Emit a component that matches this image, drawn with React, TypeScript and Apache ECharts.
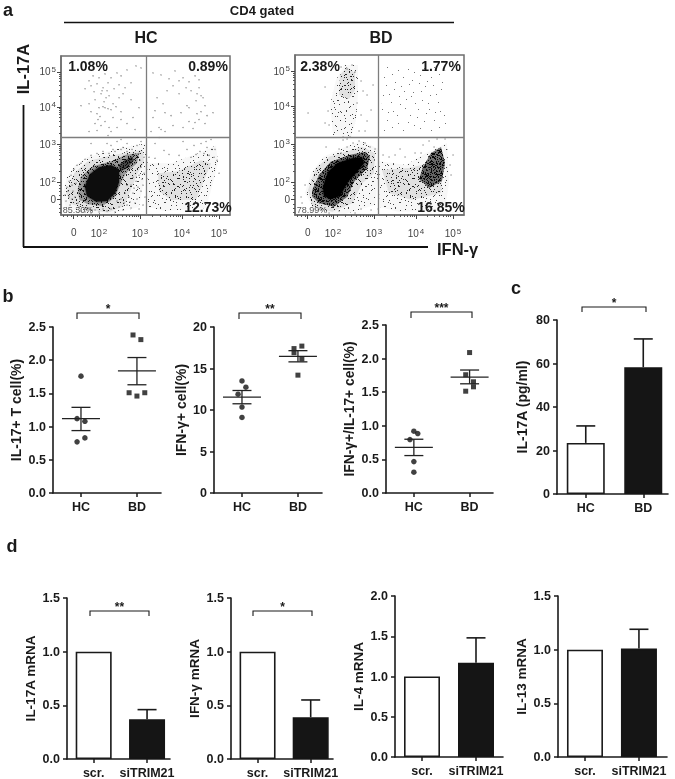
import React, { useEffect, useRef } from "react";
import * as echarts from "echarts";

// ---------- panel b: dots as [group position, value] ----------
const il17Hc = [[1, 1.76], [0.93, 1.12], [1.07, 1.08], [1.07, 0.83], [0.93, 0.77]];
const il17Bd = [[1.93, 2.38], [2.07, 2.31], [1.86, 1.51], [2, 1.46], [2.14, 1.51]];
const il17Stats = [[1, 1.12, 0.94, 1.29], [2, 1.84, 1.63, 2.04]];
const ifnHc = [[1, 13.5], [1.07, 12.75], [0.93, 11.9], [1, 10.35], [1, 9.1]];
const ifnBd = [[1.93, 17.4], [1.93, 16.9], [2.07, 17.7], [2.07, 16.15], [2, 14.2]];
const ifnStats = [[1, 11.55, 10.75, 12.35], [2, 16.45, 15.8, 17.15]];
const dualHc = [[1, 0.92], [1.07, 0.885], [0.93, 0.795], [1, 0.467], [1, 0.31]];
const dualBd = [[2, 2.09], [1.93, 1.76], [2.07, 1.655], [2.07, 1.58], [1.93, 1.515]];
const dualStats = [[1, 0.68, 0.557, 0.8], [2, 1.725, 1.625, 1.83]];

// ---------- panels c, d: bars ----------
const il17aBars = [23.5, 58.3];
const il17aErr = [31.3, 71.3];
const il17mBars = [1, 0.37];
const il17mErr = [null, 0.46];
const ifnmBars = [1, 0.39];
const ifnmErr = [null, 0.55];
const il4mBars = [1, 1.17];
const il4mErr = [null, 1.48];
const il13mBars = [1, 1.01];
const il13mErr = [null, 1.19];

// ---------- panel a: flow plots, in channel units of the plot ----------
const flowXTicks = [12.7, 38, 79, 121, 158];
const flowYTicks = [15.7, 33, 70.7, 108.4, 144];
const flowTickNames = ["0", "2", "3", "4", "5"];
const flowXMinor = [2, 6, 10, 16, 20, 24, 28, 31, 34, 36, 42, 50, 56, 61, 65, 68, 71, 73, 75, 77, 91, 99, 105, 109, 112, 115, 117, 119, 132, 139, 144, 148, 151, 153, 155];
const flowYMinor = [3, 7, 11, 20, 24, 27, 30, 44, 51, 56, 60, 63, 65, 67, 69, 82, 89, 94, 98, 101, 103, 105, 107, 119, 126, 131, 135, 138, 140, 142];

const hcQuad = { x: 85, y: 78 };
const bdQuad = { x: 83.3, y: 78 };

// outlines of the dense dot clouds
const hcOuter = [[1, 20], [6, 38], [14, 50], [26, 58], [44, 63], [62, 68], [84, 72], [87, 50], [82, 30], [78, 8], [50, 1], [20, 2], [5, 8]];
const hcHalo = [[5, 22.3], [13.3, 42.3], [26.7, 54], [46.7, 59], [63.3, 62.3], [81.7, 65.7], [83, 52.3], [76.7, 42.3], [70, 25.7], [63.3, 9], [46.7, 2.3], [26.7, 5.7], [10, 11]];
const hcMid = [[16.7, 25.7], [20, 39], [31.7, 49], [50, 54], [65, 60.7], [78, 62.3], [76, 52], [65, 42.3], [58.3, 29], [53.3, 17.3], [41.7, 9], [26.7, 10.7], [18.3, 15.7]];
const hcCore = [[24, 29], [29, 41], [38, 48], [50, 50], [58, 46], [58, 33], [54, 22], [46, 14], [35, 13.5], [26, 19]];
const hcLobe = [[57, 50], [64, 55], [71, 59], [73, 55], [66, 47], [60, 44]];
const hcRightBand = [[86.7, 52.3], [110, 52], [136.7, 62], [155, 70], [157, 52.3], [152, 32.3], [145, 7], [103.3, 4], [86.7, 8]];
const hcRightInner = [[97, 42], [117, 44], [140, 55], [150, 52], [142, 32], [135, 15], [110, 15], [98, 24]];

const bdOuter = [[10, 22], [16, 42], [28, 58], [50, 68], [66, 74], [84, 66], [83, 36], [80, 10], [50, 1], [20, 4]];
const bdHalo = [[13, 25], [20.7, 46.7], [34, 58.3], [67.3, 68.3], [80, 61.7], [79, 41.7], [67.3, 31.7], [57.3, 11.7], [37.3, 3.3], [17.3, 8.3]];
const bdMid = [[17.3, 25], [24, 40], [35.7, 53.3], [54, 60], [70.7, 63.3], [75, 58.3], [72.3, 46.7], [59, 33.3], [52.3, 18.3], [39, 8.3], [24, 11.7], [17.3, 18.3]];
const bdCore = [[28, 28], [33, 43], [42.3, 51.7], [57.3, 56.7], [67, 57.7], [69, 51.7], [61, 42], [53, 33.3], [45, 19], [36, 16], [29, 19]];
const bdRightBand = [[84, 54], [111, 50], [131, 62], [152, 72], [154, 32], [150, 5], [104, 3], [85, 8]];
const bdRightInner = [[87, 45], [114, 47], [134, 52], [149, 58], [146, 22], [117, 15], [94, 22]];
const bdRightCore = [[128, 48], [136, 62], [146, 68], [150, 52], [147, 34], [134, 27], [124, 36]];
const bdColumn = [[38, 80], [35, 110], [41, 135], [49, 150], [63, 150], [63, 120], [61, 95], [56, 78]];
const bdColumnTop = [[44, 120], [45, 140], [52, 148], [60, 142], [60, 125], [54, 116]];
const bdRightUpper = [[86, 82], [88, 150], [150, 150], [152, 82]];

const hcUpperLeft = [[28, 135], [32, 140], [38, 138], [44, 142], [50, 138], [56, 143], [60, 140], [66, 146], [75, 150], [80, 148], [24, 127], [30, 130], [36, 132], [42, 128], [47, 133], [53, 127], [58, 131], [64, 128], [70, 133], [40, 122], [45, 118], [43, 114], [48, 120], [52, 112], [58, 118], [62, 122], [34, 116], [28, 112], [20, 110], [30, 104], [38, 108], [42, 109], [44, 108], [47, 107], [50, 106], [55, 109], [60, 104], [36, 102], [37, 96], [34, 92], [40, 90], [44, 94], [48, 88], [52, 98], [60, 96], [66, 92], [72, 98], [78, 108], [28, 84], [36, 85], [50, 84], [56, 88], [74, 86], [70, 116], [39, 99], [41, 125], [46, 125], [33, 124]];
const hcUpperRight = [[92, 143], [100, 141], [112, 130], [118, 135], [114, 145], [122, 138], [128, 134], [134, 140], [138, 128], [140, 120], [136, 122], [142, 118], [144, 110], [135, 115], [130, 125], [126, 110], [118, 122], [106, 125], [102, 112], [96, 118], [94, 105], [92, 98], [104, 103], [110, 100], [120, 103], [128, 108], [136, 102], [140, 104], [146, 100], [152, 103], [128, 94], [134, 93], [138, 96], [144, 92], [122, 88], [112, 90], [98, 88], [104, 84], [100, 86], [90, 84], [132, 87], [125, 128], [138, 136], [108, 137]];
const hcLowerLeft = [[50, 70], [56, 74], [62, 68], [60, 76], [46, 72], [66, 72], [71, 66], [76, 70], [80, 74], [30, 72], [47, 80], [52, 66], [4, 20], [6, 28], [8, 34], [5, 14], [9, 10], [10, 40], [12, 24], [13, 46], [14, 18], [15, 32], [16, 50], [11, 30], [8, 18], [18, 8], [20, 4], [24, 3], [28, 7], [30, 2], [34, 5], [38, 3], [42, 6], [46, 4], [50, 6], [54, 3], [58, 8], [62, 5], [66, 10], [70, 7], [74, 12], [78, 6], [82, 10], [68, 18], [72, 22], [76, 16], [80, 24], [70, 30], [75, 34], [82, 30], [78, 40], [83, 42], [72, 38], [80, 48], [66, 30], [64, 22], [60, 16], [56, 14], [24, 56], [30, 60], [36, 62], [42, 64], [48, 62], [54, 64], [60, 66], [20, 52], [66, 64], [72, 60], [78, 62], [74, 52], [68, 48], [84, 18], [81, 36], [77, 28], [69, 13], [63, 12], [73, 27], [79, 55], [83, 58], [11, 16], [17, 12], [7, 24]];
const hcLowerRight = [[88, 58], [94, 57], [108, 61], [118, 60], [126, 66], [133, 70], [140, 72], [150, 76], [103, 65], [98, 78], [94, 72], [122, 74], [145, 74], [156, 55], [158, 42], [154, 66], [146, 68], [139, 64], [143, 62], [135, 61], [130, 58], [148, 60], [153, 58], [151, 66]];

const bdUpperLeft = [[46, 148], [52, 146], [57, 150], [60, 143], [66, 100], [72, 120], [78, 130], [76, 105], [72, 94], [66, 134], [13, 102], [30, 128], [34, 90], [62, 112], [68, 124], [33, 104], [30, 92], [70, 84], [64, 84], [48, 78], [52, 76]];
const bdLowerLeft = [[58, 72], [64, 74], [70, 72], [52, 68], [48, 75], [46, 62], [55, 78], [75, 68], [80, 66], [31, 68], [44, 66], [60, 2], [83, 6], [66, 6], [76, 5], [34, 2], [44, 4], [7, 12], [10, 30], [6, 18]];
const bdLowerRight = [[94, 58], [100, 60], [110, 58], [120, 62], [126, 62], [128, 70], [134, 74], [142, 76], [155, 50], [156, 40], [150, 76], [158, 60], [88, 60], [105, 66], [139, 68]];

// hand-placed specks of one repeating tile that textures the clouds
const speckTile = [[3, 7], [29, 2], [41, 11], [17, 5], [8, 24], [36, 27], [22, 17], [45, 38], [13, 41], [30, 46], [5, 50], [39, 50], [25, 33], [11, 14], [34, 9], [44, 22], [19, 29], [2, 33], [27, 24], [15, 49], [37, 39], [7, 42], [23, 43], [32, 16], [42, 3], [10, 32], [21, 9], [46, 47], [1, 15], [28, 38], [16, 21], [38, 19], [6, 3], [33, 31], [43, 30], [12, 6], [24, 51], [18, 36], [35, 43], [4, 28], [26, 11], [40, 34], [9, 47], [31, 22], [20, 1], [46, 14], [14, 27], [37, 6], [3, 39], [29, 50], [22, 26], [41, 44], [8, 10], [17, 45], [34, 36], [44, 8], [11, 36], [27, 5], [39, 25], [6, 19], [25, 40], [16, 12], [32, 42], [45, 29], [19, 49], [2, 46], [36, 13], [23, 21], [13, 33], [42, 18]];

const colorInk = "#1a1a1a";
const fontFamily = '"Liberation Sans", Arial, sans-serif';

type Grid = { left: number; top: number; width: number; height: number };

const flowGrids: Grid[] = [
  { left: 61, top: 56, width: 169, height: 159 },
  { left: 295, top: 55, width: 169, height: 160 },
];

function speckle(count: number, copies: number, color: string, tone: number) {
  const c = document.createElement("canvas");
  c.width = 47;
  c.height = 53;
  const g = c.getContext("2d")!;
  g.fillStyle = `rgba(0,0,0,${tone})`;
  g.fillRect(0, 0, 47, 53);
  g.fillStyle = color;
  const pts = speckTile.slice(0, count);
  for (let k = 0; k < copies; k++) {
    pts.forEach(([x, y]) => g.fillRect((x + k * 13) % 47, (y + k * 29) % 53, 1, 1));
  }
  return { image: c, repeat: "repeat", imageWidth: 47, imageHeight: 53 };
}

function tickName(i: number) {
  return i === 0 ? "{n|0}" : `{n|10}{s|${flowTickNames[i]}}`;
}

function buildFlowAxes(gridIndex: number) {
  const axisLine = { show: true, lineStyle: { color: "#6e6e6e", width: 1.5 } };
  const rich = {
    n: { fontSize: 10, color: "#444", fontFamily },
    s: { fontSize: 8, color: "#444", fontFamily, verticalAlign: "top" as const, padding: [0, 0, 5, 1] },
  };
  const x = [
    {
      gridIndex, type: "value", min: 0, max: 169, position: "bottom", splitLine: { show: false }, axisLine,
      axisTick: { show: true, length: 4, customValues: flowXTicks, lineStyle: { color: "#444" } },
      axisLabel: {
        show: true, margin: 12, customValues: flowXTicks, rich,
        formatter: (v: number) => tickName(flowXTicks.indexOf(v)),
      },
    },
    {
      gridIndex, type: "value", min: 0, max: 169, position: "bottom", splitLine: { show: false }, axisLine: { show: false },
      axisTick: { show: true, length: 2, customValues: flowXMinor, lineStyle: { color: "#555" } },
      axisLabel: { show: false },
    },
  ];
  const y = [
    {
      gridIndex, type: "value", min: 0, max: 160, position: "left", splitLine: { show: false }, axisLine,
      axisTick: { show: true, length: 4, customValues: flowYTicks, lineStyle: { color: "#444" } },
      axisLabel: {
        show: true, margin: 5, customValues: flowYTicks, rich,
        formatter: (v: number) => tickName(flowYTicks.indexOf(v)),
      },
    },
    {
      gridIndex, type: "value", min: 0, max: 160, position: "left", splitLine: { show: false }, axisLine: { show: false },
      axisTick: { show: true, length: 2, customValues: flowYMinor, lineStyle: { color: "#555" } },
      axisLabel: { show: false },
    },
  ];
  return { x, y };
}

function polygonSeries(xAxisIndex: number, yAxisIndex: number, pts: number[][], fill: any, blur: number) {
  return {
    type: "custom", xAxisIndex, yAxisIndex, silent: true, z: 1,
    data: [pts[0]], encode: { x: 0, y: 1 },
    renderItem: (_p: any, api: any) => ({
      type: "polygon",
      shape: { points: pts.map((q) => api.coord(q)) },
      style: blur ? { fill, shadowBlur: blur, shadowColor: fill } : { fill },
    }),
  };
}

function dotsSeries(xAxisIndex: number, yAxisIndex: number, data: number[][]) {
  return {
    type: "scatter", xAxisIndex, yAxisIndex, silent: true, z: 2, data,
    symbol: "circle", symbolSize: 1.3, itemStyle: { color: "#555", opacity: 0.75 },
  };
}

function quadSeries(xAxisIndex: number, yAxisIndex: number, q: { x: number; y: number }) {
  return {
    type: "scatter", xAxisIndex, yAxisIndex, silent: true, z: 3, data: [], symbolSize: 0,
    markLine: {
      silent: true, symbol: "none", label: { show: false }, animation: false,
      lineStyle: { color: "#7d7d7d", width: 1.3, type: "solid" },
      data: [{ xAxis: q.x }, { yAxis: q.y }],
    },
  };
}

type Panel = {
  grid: Grid; xMax: number; yMax: number; yStep: number; decimals: number; name: string; nameGap: number;
  cats: string[]; labelSize: number;
};

function buildPanelAxes(p: Panel, gridIndex: number) {
  const line = { show: true, lineStyle: { color: colorInk, width: 1.6 } };
  const labelStyle = { color: colorInk, fontSize: 12.5, fontWeight: "bold" as const, fontFamily };
  return {
    x: {
      gridIndex, type: "value", min: 0.5, max: p.xMax, splitLine: { show: false }, axisLine: line,
      axisTick: { show: true, length: 4, customValues: [1, 2], lineStyle: { color: colorInk, width: 1.5 } },
      axisLabel: {
        ...labelStyle, show: true, margin: 7, customValues: [1, 2],
        formatter: (v: number) => p.cats[v - 1],
      },
    },
    y: {
      gridIndex, type: "value", min: 0, max: p.yMax, interval: p.yStep, splitLine: { show: false }, axisLine: line,
      axisTick: { show: true, length: 4, lineStyle: { color: colorInk, width: 1.5 } },
      axisLabel: { ...labelStyle, show: true, margin: 7, formatter: (v: number) => v.toFixed(p.decimals) },
      name: p.name, nameLocation: "middle", nameRotate: 90, nameGap: p.nameGap,
      nameTextStyle: { color: colorInk, fontSize: p.labelSize, fontWeight: "bold", fontFamily },
    },
  };
}

function statsSeries(i: number, data: number[][]) {
  return {
    type: "custom", xAxisIndex: i, yAxisIndex: i, silent: true, z: 4, data, encode: { x: 0, y: 1 },
    renderItem: (_p: any, api: any) => {
      const x = api.value(0);
      const m = api.coord([x, api.value(1)]);
      const lo = api.coord([x, api.value(2)]);
      const hi = api.coord([x, api.value(3)]);
      const s = { stroke: "#222", lineWidth: 1.3 };
      const seg = (x1: number, y1: number, x2: number, y2: number) => ({ type: "line", shape: { x1, y1, x2, y2 }, style: s });
      return {
        type: "group",
        children: [
          seg(m[0] - 19, m[1], m[0] + 19, m[1]),
          seg(m[0], lo[1], m[0], hi[1]),
          seg(m[0] - 9.5, lo[1], m[0] + 9.5, lo[1]),
          seg(m[0] - 9.5, hi[1], m[0] + 9.5, hi[1]),
        ],
      };
    },
  };
}

function barSeries(i: number, vals: number[], width: number) {
  return {
    type: "bar", xAxisIndex: i, yAxisIndex: i, silent: true, z: 3, barWidth: width,
    data: [
      { value: [1, vals[0]], itemStyle: { color: "#fff", borderColor: colorInk, borderWidth: 1.6 } },
      { value: [2, vals[1]], itemStyle: { color: "#151515", borderColor: "#151515", borderWidth: 1.6 } },
    ],
  };
}

function errSeries(i: number, vals: number[], errs: (number | null)[]) {
  const data = errs.map((e, k) => [k + 1, vals[k], e]).filter((d) => d[2] !== null);
  return {
    type: "custom", xAxisIndex: i, yAxisIndex: i, silent: true, z: 2, data, encode: { x: 0, y: 1 },
    renderItem: (_p: any, api: any) => {
      const x = api.value(0);
      const a = api.coord([x, api.value(1)]);
      const b = api.coord([x, api.value(2)]);
      const s = { stroke: colorInk, lineWidth: 1.6 };
      return {
        type: "group",
        children: [
          { type: "line", shape: { x1: a[0], y1: a[1], x2: b[0], y2: b[1] }, style: s },
          { type: "line", shape: { x1: b[0] - 9.5, y1: b[1], x2: b[0] + 9.5, y2: b[1] }, style: s },
        ],
      };
    },
  };
}

function dotSeries(i: number, data: number[][], symbol: string) {
  return {
    type: "scatter", xAxisIndex: i, yAxisIndex: i, silent: true, z: 3, data, symbol,
    symbolSize: symbol === "rect" ? 5 : 5.5, itemStyle: { color: "#111" },
  };
}

const panels: Panel[] = [
  { grid: { left: 53, top: 327, width: 108, height: 166 }, xMax: 2.43, yMax: 2.5, yStep: 0.5, decimals: 1, name: "IL-17+ T cell(%)", nameGap: 30, cats: ["HC", "BD"], labelSize: 14 },
  { grid: { left: 214, top: 327, width: 108, height: 166 }, xMax: 2.43, yMax: 20, yStep: 5, decimals: 0, name: "IFN-γ+ cell(%)", nameGap: 26, cats: ["HC", "BD"], labelSize: 14 },
  { grid: { left: 386, top: 325, width: 107, height: 168 }, xMax: 2.42, yMax: 2.5, yStep: 0.5, decimals: 1, name: "IFN-γ+/IL-17+ cell(%)", nameGap: 30, cats: ["HC", "BD"], labelSize: 13.8 },
  { grid: { left: 557, top: 320, width: 111, height: 174 }, xMax: 2.43, yMax: 80, yStep: 20, decimals: 0, name: "IL-17A (pg/ml)", nameGap: 28, cats: ["HC", "BD"], labelSize: 14 },
  { grid: { left: 67, top: 598, width: 103, height: 161 }, xMax: 2.43, yMax: 1.5, yStep: 0.5, decimals: 1, name: "IL-17A mRNA", nameGap: 30, cats: ["scr.", "siTRIM21"], labelSize: 13.5 },
  { grid: { left: 231, top: 598, width: 102, height: 161 }, xMax: 2.42, yMax: 1.5, yStep: 0.5, decimals: 1, name: "IFN-γ mRNA", nameGap: 30, cats: ["scr.", "siTRIM21"], labelSize: 13.5 },
  { grid: { left: 395, top: 596, width: 108, height: 161 }, xMax: 2.5, yMax: 2, yStep: 0.5, decimals: 1, name: "IL-4 mRNA", nameGap: 30, cats: ["scr.", "siTRIM21"], labelSize: 13.5 },
  { grid: { left: 558, top: 596, width: 109, height: 161 }, xMax: 2.52, yMax: 1.5, yStep: 0.5, decimals: 1, name: "IL-13 mRNA", nameGap: 30, cats: ["scr.", "siTRIM21"], labelSize: 13.5 },
];

function txt(text: string, x: number, y: number, font: string, extra: any = {}) {
  return {
    type: "text", x, y, z: 100, silent: true, rotation: extra.rotation ?? 0,
    style: { text, font, fill: extra.fill ?? colorInk, textAlign: extra.align ?? "center", textVerticalAlign: "middle" },
  };
}

function bracket(x1: number, x2: number, yTop: number, yBottom: number, stars: string) {
  return [
    {
      type: "polyline", z: 100, silent: true,
      shape: { points: [[x1, yBottom], [x1, yTop], [x2, yTop], [x2, yBottom]] },
      style: { stroke: colorInk, lineWidth: 1.1, fill: "none" },
    },
    txt(stars, (x1 + x2) / 2, yTop - 4, `bold 12px ${fontFamily}`),
  ];
}

function line(x1: number, y1: number, x2: number, y2: number, w: number) {
  return { type: "line", z: 100, silent: true, shape: { x1, y1, x2, y2 }, style: { stroke: "#111", lineWidth: w } };
}

function buildOption() {
  const grids: Grid[] = [];
  const xAxis: any[] = [];
  const yAxis: any[] = [];
  const series: any[] = [];

  flowGrids.forEach((g, gi) => {
    grids.push({ ...g, show: true, borderColor: "#6e6e6e", borderWidth: 1.5, backgroundColor: "#fff" } as any);
    const a = buildFlowAxes(gi);
    xAxis.push(...a.x);
    yAxis.push(...a.y);
  });
  const flowAxis = (gi: number) => gi * 2;

  const faint = speckle(40, 1, "rgba(60,60,60,0.7)", 0);
  const sparse = speckle(70, 2, "rgba(40,40,40,0.85)", 0.03);
  const medium = speckle(70, 4, "rgba(25,25,25,0.9)", 0.09);
  const dense = speckle(70, 9, "#101010", 0.32);
  const heavy = speckle(70, 16, "#080808", 0.55);

  const flowLayers = [
    {
      q: hcQuad,
      polys: [[hcRightBand, sparse, 0], [hcRightInner, medium, 0], [hcOuter, sparse, 0], [hcHalo, medium, 0], [hcMid, dense, 0], [hcLobe, heavy, 0], [hcCore, "#070707", 3]],
      dots: [hcUpperLeft, hcUpperRight, hcLowerLeft, hcLowerRight],
    },
    {
      q: bdQuad,
      polys: [[bdRightUpper, faint, 0], [bdColumn, sparse, 0], [bdColumnTop, medium, 0], [bdRightBand, sparse, 0], [bdRightInner, medium, 0], [bdRightCore, heavy, 0], [bdOuter, sparse, 0], [bdHalo, medium, 0], [bdMid, heavy, 0], [bdCore, "#050505", 3]],
      dots: [bdUpperLeft, bdLowerLeft, bdLowerRight],
    },
  ];
  flowLayers.forEach((l, gi) => {
    const ax = flowAxis(gi);
    l.polys.forEach((p: any) => series.push(polygonSeries(ax, ax, p[0], p[1], p[2])));
    l.dots.forEach((d) => series.push(dotsSeries(ax, ax, d)));
    series.push(quadSeries(ax, ax, l.q));
  });

  const base = flowGrids.length;
  panels.forEach((p, i) => {
    grids.push(p.grid);
    const a = buildPanelAxes(p, base + i);
    xAxis.push(a.x);
    yAxis.push(a.y);
  });
  const ax = (i: number) => 4 + i;
  series.push(statsSeries(ax(0), il17Stats), dotSeries(ax(0), il17Hc, "circle"), dotSeries(ax(0), il17Bd, "rect"));
  series.push(statsSeries(ax(1), ifnStats), dotSeries(ax(1), ifnHc, "circle"), dotSeries(ax(1), ifnBd, "rect"));
  series.push(statsSeries(ax(2), dualStats), dotSeries(ax(2), dualHc, "circle"), dotSeries(ax(2), dualBd, "rect"));
  series.push(barSeries(ax(3), il17aBars, 38), errSeries(ax(3), il17aBars, il17aErr));
  series.push(barSeries(ax(4), il17mBars, 36), errSeries(ax(4), il17mBars, il17mErr));
  series.push(barSeries(ax(5), ifnmBars, 36), errSeries(ax(5), ifnmBars, ifnmErr));
  series.push(barSeries(ax(6), il4mBars, 36), errSeries(ax(6), il4mBars, il4mErr));
  series.push(barSeries(ax(7), il13mBars, 36), errSeries(ax(7), il13mBars, il13mErr));

  const pct = `bold 14px ${fontFamily}`;
  const small = `9px ${fontFamily}`;
  const letter = `bold 18px ${fontFamily}`;
  const elements: any[] = [
    txt("a", 8, 10, letter), txt("b", 8, 296, letter), txt("c", 516, 288, letter), txt("d", 12, 546, letter),
    txt("CD4 gated", 262, 10, `bold 13px ${fontFamily}`),
    line(64, 22.5, 454, 22.5, 1.6),
    txt("HC", 146, 37, `bold 16px ${fontFamily}`), txt("BD", 381, 37, `bold 16px ${fontFamily}`),
    txt("IL-17A", 23, 69, `bold 16.5px ${fontFamily}`, { rotation: Math.PI / 2 }),
    line(23.5, 105, 23.5, 247, 1.8), line(23, 247, 428, 247, 1.8),
    txt("IFN-γ", 437, 249, `bold 16.5px ${fontFamily}`, { align: "left" }),
    txt("1.08%", 88, 66, pct), txt("0.89%", 208, 66, pct), txt("12.73%", 208, 207, pct), txt("85.30%", 78, 210, small, { fill: "#555" }),
    txt("2.38%", 320, 66, pct), txt("1.77%", 441, 66, pct), txt("16.85%", 441, 207, pct), txt("78.99%", 312, 210, small, { fill: "#555" }),
    ...bracket(77, 139, 313, 319, "*"),
    ...bracket(239, 301, 313, 319, "**"),
    ...bracket(411, 472, 312, 318, "***"),
    ...bracket(582, 646, 307, 312, "*"),
    ...bracket(90, 149, 611, 616, "**"),
    ...bracket(253, 312, 611, 616, "*"),
  ];

  return {
    animation: false,
    backgroundColor: "#fff",
    textStyle: { fontFamily },
    grid: grids,
    xAxis,
    yAxis,
    series,
    graphic: { elements },
  };
}

export default function App() {
  const ref = useRef<HTMLDivElement>(null);
  useEffect(() => {
    const chart = echarts.init(ref.current!, undefined, { renderer: "svg" });
    chart.setOption(buildOption() as any);
    return () => chart.dispose();
  }, []);
  return <div ref={ref} style={{ position: "absolute", left: 0, top: 0, width: 675, height: 779, filter: "blur(0.45px)" }} />;
}
